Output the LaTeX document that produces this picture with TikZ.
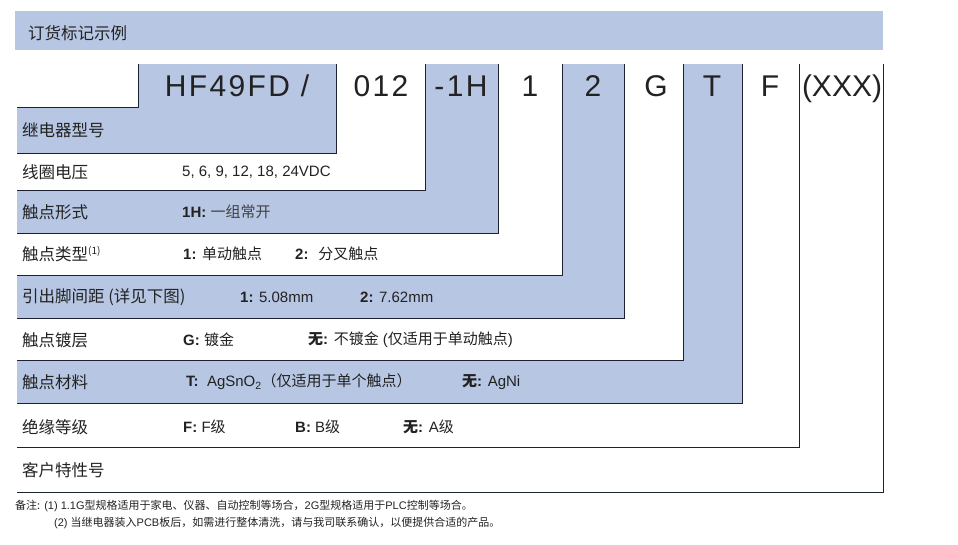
\documentclass[tikz,border=0pt]{standalone}
\usepackage{fontspec}
\setmainfont{Liberation Sans}
\newfontfamily\cjk{Noto Sans CJK SC}
\newfontfamily\codefont[LetterSpace=8]{Liberation Sans}
\definecolor{shblue}{HTML}{B7C6E3}
\definecolor{ln}{HTML}{1C2233}
\definecolor{txt}{HTML}{222222}
\begin{document}
\begin{tikzpicture}[x=1pt,y=-1pt,
  lab/.style={anchor=west,inner sep=0pt,font=\cjk\fontsize{16.5}{18}\selectfont,text=txt},
  det/.style={anchor=west,inner sep=0pt,font=\fontsize{15}{17}\selectfont,text=txt},
  code/.style={anchor=base,inner sep=0pt,font=\codefont\fontsize{30}{31}\selectfont,text=txt},
  note/.style={anchor=west,inner sep=0pt,font=\fontsize{11}{13}\selectfont,text=txt},
  rule/.style={draw=ln,line width=1pt}]
\useasboundingbox (0,0) rectangle (958,544);
% header
\fill[shblue] (15,11) rectangle (883,50);
\node[lab] (hdr) at (28,33) {订货标记示例};
% shading
\fill[shblue] (17,107) -- (138,107) -- (138,64) -- (336,64) -- (336,153) -- (17,153) -- cycle;
\fill[shblue] (425,64) rectangle (498,233);
\fill[shblue] (17,190) rectangle (498,233);
\fill[shblue] (562,64) rectangle (624,318);
\fill[shblue] (17,275) rectangle (624,318);
\fill[shblue] (683,64) rectangle (742,403);
\fill[shblue] (17,360) rectangle (742,403);
% rules
\draw[rule] (17,107) -- (138,107) -- (138,64);
\foreach \xr/\yb in {336/153,425/190,498/233,562/275,624/318,683/360,742/403,799/447,883/492}
  \draw[rule] (17,\yb) -- (\xr,\yb) -- (\xr,64);
% code row
\node[code] (c1) at (237,96) {HF49FD /};
\node[code] (c2) at (381,96) {012};
\node[code] (c3) at (461,96) {-1H};
\node[code] (c4) at (530,96) {1};
\node[code] (c5) at (593,96) {2};
\node[code] (c6) at (656,96) {G};
\node[code] (c7) at (712,96) {T};
\node[code] (c8) at (770,96) {F};
\node[code, font=\fontsize{30}{31}\selectfont] (c9) at (842,96) {(XXX)};
% labels
\node[lab] (r1) at (22,130) {继电器型号};
\node[lab] (r2) at (22,172) {线圈电压};
\node[lab] (r3) at (22,212) {触点形式};
\node[lab] (r4) at (22,254) {触点类型\textsuperscript{\fontsize{10}{10}\selectfont(1)}};
\node[lab] (r5) at (22,297) {引出脚间距 (详见下图)};
\node[lab] (r6) at (22,340) {触点镀层};
\node[lab] (r7) at (22,382) {触点材料};
\node[lab] (r8) at (22,427) {绝缘等级};
\node[lab] (r9) at (22,470) {客户特性号};
% details
\node[det] (d2) at (182,172) {5, 6, 9, 12, 18, 24VDC};
\node[det] (d3) at (182,212) {\textbf{1H:} {\cjk\color{darkgray}一组常开}};
\node[det] (d4a) at (183,254) {\textbf{1:} {\cjk 单动触点}};
\node[det] (d4b) at (295,254) {\textbf{2:} \ {\cjk 分叉触点}};
\node[det] (d5a) at (240,297) {\textbf{1:} 5.08mm};
\node[det] (d5b) at (360,297) {\textbf{2:} 7.62mm};
\node[det] (d6a) at (183,340) {\textbf{G:} {\cjk 镀金}};
\node[det] (d6b) at (308,340) {{\cjk\bfseries 无}\textbf{:} {\cjk 不镀金} ({\cjk 仅适用于单动触点})};
\node[det] (d7a) at (186,382) {\textbf{T:} \ AgSnO\textsubscript{2}{\cjk（仅适用于单个触点）}};
\node[det] (d7b) at (462,382) {{\cjk\bfseries 无}\textbf{:} AgNi};
\node[det] (d8a) at (183,427) {\textbf{F:} F{\cjk 级}};
\node[det] (d8b) at (295,427) {\textbf{B:} B{\cjk 级}};
\node[det] (d8c) at (403,427) {{\cjk\bfseries 无}\textbf{:} A{\cjk 级}};
% notes
\node[note] (n1) at (15,506) {{\cjk 备注:} (1) 1.1G{\cjk 型规格适用于家电、仪器、自动控制等场合，}2G{\cjk 型规格适用于}PLC{\cjk 控制等场合。}};
\node[note] (n2) at (54,523) {(2) {\cjk 当继电器装入}PCB{\cjk 板后，如需进行整体清洗，请与我司联系确认，以便提供合适的产品。}};
\end{tikzpicture}
\end{document}
